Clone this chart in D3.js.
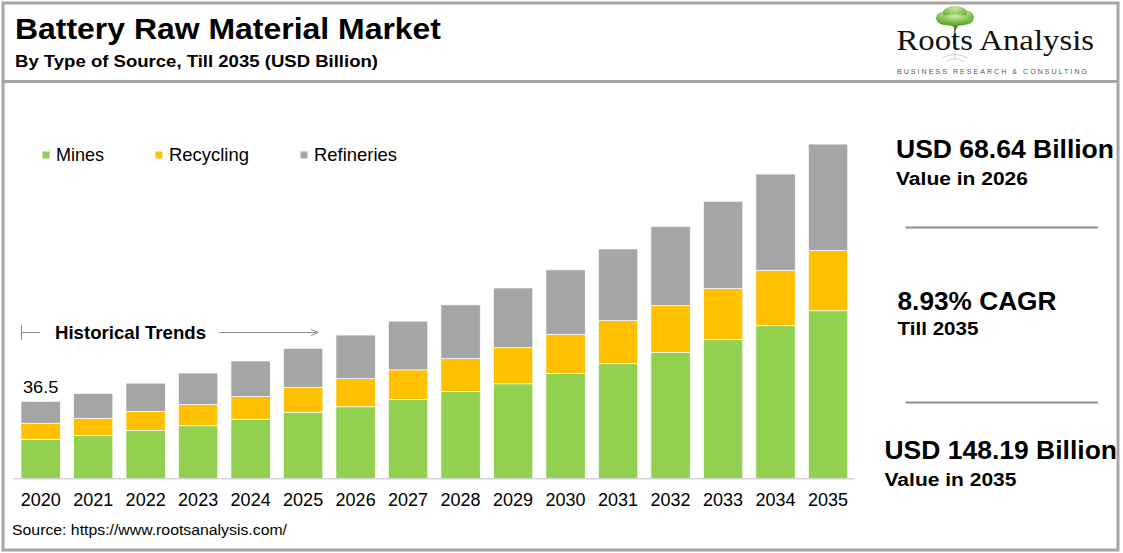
<!DOCTYPE html>
<html>
<head>
<meta charset="utf-8">
<script src="https://cdn.jsdelivr.net/npm/d3@7"></script>
<style>
  html, body { margin: 0; padding: 0; background: #fff; }
  svg { display: block; font-family: "Liberation Sans", Arial, sans-serif; }
</style>
</head>
<body>
<div id="vis"></div>
<script>
const FRAME_WIDTH = 1123;
const FRAME_HEIGHT = 553;

// data (USD billion)
const years = ["2020", "2021", "2022", "2023", "2024", "2025", "2026", "2027",
               "2028", "2029", "2030", "2031", "2032", "2033", "2034", "2035"];
const mines      = [18.5, 20.2, 22.7, 24.9, 28.0, 31.3, 33.9, 37.4, 41.2, 44.8, 49.6, 54.3, 59.7, 65.7, 72.3, 79.4];
const recycling  = [7.6, 8.2, 9.0, 10.0, 10.7, 11.8, 13.3, 14.0, 15.5, 17.1, 18.5, 20.4, 22.1, 24.2, 26.3, 28.6];
const refineries = [10.4, 11.8, 13.4, 15.0, 16.9, 18.5, 20.7, 23.1, 25.5, 28.3, 30.7, 34.0, 37.6, 41.4, 45.6, 50.4];
const seriesNames = ["Mines", "Recycling", "Refineries"];
const seriesColors = ["#92d050", "#ffc000", "#a5a5a5"];
const firstLabel = "36.5";

const BASE_Y = 478.3;
const Y_MAX = 160;

const svg = d3.select("#vis")
  .append("svg")
    .attr("width", FRAME_WIDTH)
    .attr("height", FRAME_HEIGHT);

// text helper, len stretches the text to the width seen in the picture
function addText(str, x, y, size, bold, len) {
  const t = svg.append("text")
    .attr("x", x).attr("y", y)
    .attr("font-size", size + "px")
    .attr("font-weight", bold ? "bold" : "normal")
    .attr("fill", "#000")
    .text(str);
  if (len) t.attr("textLength", len).attr("lengthAdjust", "spacingAndGlyphs");
  return t;
}

// frame + header divider
svg.append("rect")
  .attr("x", 3).attr("y", 3)
  .attr("width", 1115).attr("height", 547)
  .attr("fill", "none")
  .attr("stroke", "#a6a6a6")
  .attr("stroke-width", 3);
svg.append("line")
  .attr("x1", 3).attr("x2", 1118)
  .attr("y1", 81.5).attr("y2", 81.5)
  .attr("stroke", "#a6a6a6")
  .attr("stroke-width", 3);

// titles
addText("Battery Raw Material Market", 15, 39.2, 29, true, 426);
addText("By Type of Source, Till 2035 (USD Billion)", 15, 67.2, 17, true, 363);

// logo
const logo = svg.append("g");
const grad = svg.append("defs").append("radialGradient")
  .attr("id", "canopy").attr("cx", "50%").attr("cy", "20%").attr("r", "70%");
grad.append("stop").attr("offset", "0%").attr("stop-color", "#cfe8a0");
grad.append("stop").attr("offset", "100%").attr("stop-color", "#58a82c");
logo.append("path")
  .attr("d", "M955 24 L954 44 M955 27 L947 21 M955 27 L963 19 M955 30 L959 22")
  .attr("stroke", "#5e7d3a").attr("stroke-width", 1.6).attr("fill", "none");
[[946, 18, 10, 7], [964, 17, 10, 7], [955, 13, 12, 7], [955, 20, 18, 6]].forEach(c => {
  logo.append("ellipse")
    .attr("cx", c[0]).attr("cy", c[1]).attr("rx", c[2]).attr("ry", c[3])
    .attr("fill", "url(#canopy)");
});
logo.append("path")
  .attr("d", "M942 58 Q955 51 968 58 M946 62 Q955 55 964 62 M955 51 L955 60")
  .attr("stroke", "#d0d0d0").attr("stroke-width", 1).attr("fill", "none");
logo.append("text")
  .attr("x", 896.5).attr("y", 50)
  .attr("font-family", "'Liberation Serif', 'DejaVu Serif', serif")
  .attr("font-size", "29px")
  .attr("fill", "#111")
  .attr("textLength", 197.5)
  .attr("lengthAdjust", "spacingAndGlyphs")
  .text("Roots Analysis");
logo.append("text")
  .attr("x", 897).attr("y", 73.5)
  .attr("font-size", "7px")
  .attr("fill", "#555")
  .attr("textLength", 190)
  .attr("lengthAdjust", "spacing")
  .text("BUSINESS RESEARCH & CONSULTING");

// scales
const X_SCALE = d3.scaleBand()
  .domain(years)
  .range([14.4, 854.3])
  .paddingInner(0.25)
  .paddingOuter(0.125);

const Y_SCALE = d3.scaleLinear()
  .domain([0, Y_MAX])
  .range([BASE_Y, BASE_Y - Y_MAX * 2.11]);

const rows = years.map((yr, i) => ({
  year: yr, Mines: mines[i], Recycling: recycling[i], Refineries: refineries[i]
}));
const stacked = d3.stack().keys(seriesNames)(rows);

// bars
svg.append("g")
  .selectAll("g")
  .data(stacked)
  .enter()
  .append("g")
    .attr("fill", (d, i) => seriesColors[i])
  .selectAll("rect")
  .data(d => d)
  .enter()
  .append("rect")
    .attr("x", d => X_SCALE(d.data.year))
    .attr("y", d => Y_SCALE(d[1]))
    .attr("width", X_SCALE.bandwidth())
    .attr("height", d => Y_SCALE(d[0]) - Y_SCALE(d[1]))
    .attr("stroke", "#ffffff")
    .attr("stroke-width", 0.7);

// x axis
const xAxis = svg.append("g")
  .attr("transform", "translate(0," + BASE_Y + ")")
  .call(d3.axisBottom(X_SCALE).tickSize(0).tickPadding(15));
xAxis.select(".domain")
  .attr("stroke", "#bfbfbf")
  .attr("d", "M13,0.5H855");
xAxis.selectAll("text")
  .attr("font-family", "'Liberation Sans', Arial, sans-serif")
  .attr("font-size", "18px")
  .attr("fill", "#000");

// 2020 total label
addText(firstLabel,
  X_SCALE(years[0]) + X_SCALE.bandwidth() / 2,
  Y_SCALE(mines[0] + recycling[0] + refineries[0]) - 8.5, 16, false, 35.5)
  .attr("text-anchor", "middle");

// legend
const legendX = [42.5, 155.5, 300.5];
const legendW = [48, 80, 83];
seriesNames.forEach((name, i) => {
  svg.append("rect")
    .attr("x", legendX[i]).attr("y", 151.5)
    .attr("width", 7).attr("height", 7)
    .attr("fill", seriesColors[i]);
  addText(name, legendX[i] + 13.5, 161, 18.5, false, legendW[i]);
});

// historical trends marker
const trend = svg.append("g").attr("stroke", "#8c8c8c").attr("stroke-width", 1);
trend.append("line").attr("x1", 21.5).attr("x2", 21.5).attr("y1", 325).attr("y2", 340);
trend.append("line").attr("x1", 21.5).attr("x2", 40).attr("y1", 332.5).attr("y2", 332.5);
trend.append("line").attr("x1", 219).attr("x2", 316).attr("y1", 332.5).attr("y2", 332.5);
trend.append("path")
  .attr("d", "M311,329.5 L318.5,332.5 L311,335.5")
  .attr("fill", "none");
addText("Historical Trends", 55, 338.5, 18.5, true, 151);

// right panel
const panel = [
  {big: "USD 68.64 Billion", bigW: 218, small: "Value in 2026", smallW: 132, x: 896, y: 158.3, y2: 185.3},
  {big: "8.93% CAGR", bigW: 159, small: "Till 2035", smallW: 81, x: 897.5, y: 310, y2: 335},
  {big: "USD 148.19 Billion", bigW: 232.5, small: "Value in 2035", smallW: 132, x: 884.5, y: 459, y2: 485.7}
];
panel.forEach(p => {
  addText(p.big, p.x, p.y, 25, true, p.bigW);
  addText(p.small, p.x, p.y2, 18, true, p.smallW);
});
[227.5, 402.5].forEach(yy => {
  svg.append("line")
    .attr("x1", 905.5).attr("x2", 1098)
    .attr("y1", yy).attr("y2", yy)
    .attr("stroke", "#8c8c8c")
    .attr("stroke-width", 2);
});

// source
addText("Source: https://www.rootsanalysis.com/", 12, 535, 15.5, false, 275);
</script>
</body>
</html>
